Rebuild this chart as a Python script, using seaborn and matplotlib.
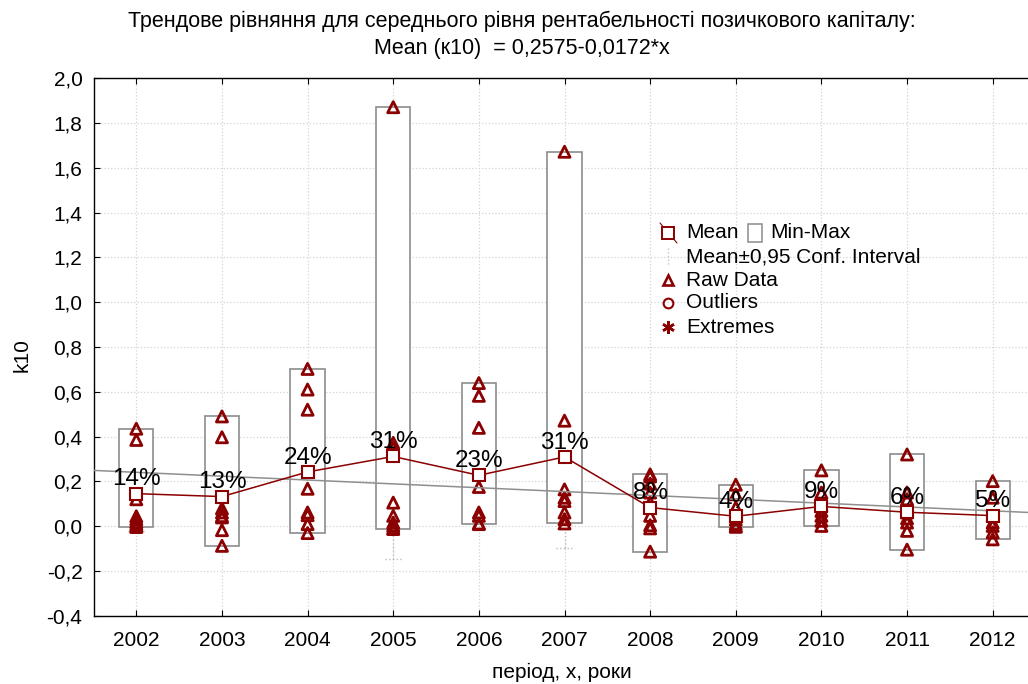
import numpy as np
import pandas as pd
import seaborn as sns
import matplotlib
matplotlib.use("Agg")
import matplotlib.pyplot as plt
from matplotlib.lines import Line2D
from matplotlib.patches import Rectangle

# ---- data ----
years = [2002, 2003, 2004, 2005, 2006, 2007, 2008, 2009, 2010, 2011, 2012]
raw_2002 = [0.435, 0.385, 0.12, 0.044, 0.031, 0.018, 0.008, 0.0, -0.004]
raw_2003 = [0.49, 0.397, 0.079, 0.061, 0.045, 0.039, -0.018, -0.088]
raw_2004 = [0.702, 0.61, 0.52, 0.167, 0.061, 0.049, 0.009, -0.031]
raw_2005 = [1.871, 0.372, 0.35, 0.105, 0.046, 0.016, 0.003, -0.008, -0.013]
raw_2006 = [0.639, 0.582, 0.439, 0.175, 0.061, 0.046, 0.012, 0.009]
raw_2007 = [1.672, 0.471, 0.164, 0.127, 0.112, 0.061, 0.031, 0.012]
raw_2008 = [0.231, 0.222, 0.19, 0.15, 0.105, 0.046, 0.004, -0.01, -0.114]
raw_2009 = [0.185, 0.142, 0.083, 0.03, 0.01, 0.0, -0.003]
raw_2010 = [0.249, 0.15, 0.09, 0.068, 0.046, 0.024, 0.001]
raw_2011 = [0.32, 0.15, 0.12, 0.061, 0.035, 0.016, -0.021, -0.105]
raw_2012 = [0.201, 0.127, 0.046, 0.016, 0.001, -0.028, -0.059]
raw_values = [raw_2002, raw_2003, raw_2004, raw_2005, raw_2006, raw_2007,
              raw_2008, raw_2009, raw_2010, raw_2011, raw_2012]
means = [0.145, 0.132, 0.242, 0.311, 0.227, 0.309, 0.083, 0.044, 0.088, 0.062, 0.047]
ci_half = [0.165, 0.17, 0.22, 0.458, 0.2, 0.408, 0.09, 0.045, 0.07, 0.1, 0.07]
trend_a, trend_b = 0.2575, -0.0172
y_ticks = [-0.4, -0.2, 0.0, 0.2, 0.4, 0.6, 0.8, 1.0, 1.2, 1.4, 1.6, 1.8, 2.0]

title = ("Трендове рівняння для середнього рівня рентабельності позичкового капіталу:\n"
         "Mean (к10)  = 0,2575-0,0172*x")

RED = "#8b0000"
BOX = "#8c8c8c"
GRID = "#d4d4d4"

sns.set_style("white")
plt.rcParams["font.family"] = ["Liberation Sans", "DejaVu Sans"]
plt.rcParams.update({"text.color": "black", "axes.labelcolor": "black",
                     "xtick.color": "black", "ytick.color": "black"})

W, H = 1028, 684
fig = plt.figure(figsize=(W / 100, H / 100), dpi=100)

# plot area in pixels (extends past the right edge of the canvas)
left_px, right_px, top_px, bottom_px = 93.5, 1035.5, 78.3, 615.7
ax = fig.add_axes([left_px / W, 1 - bottom_px / H,
                   (right_px - left_px) / W, (bottom_px - top_px) / H])

raw_df = pd.DataFrame({
    "year": np.repeat(years, [len(v) for v in raw_values]),
    "k10": np.concatenate(raw_values),
})
mean_df = pd.DataFrame({"year": years, "mean": means})

# confidence interval whiskers (boxes are drawn on top of them)
lo = np.array(means) - np.array(ci_half)
hi = np.array(means) + np.array(ci_half)
ax.vlines(years, lo, hi, colors="#bdbdbd", linestyles=":", linewidth=1.0, zorder=1.5)
ax.hlines(np.concatenate([lo, hi]), np.array(years * 2) - 0.1, np.array(years * 2) + 0.1,
          colors="#bdbdbd", linestyles=":", linewidth=1.0, zorder=1.5)

# min-max boxes
mins = [min(v) for v in raw_values]
maxs = [max(v) for v in raw_values]
ax.bar(years, np.array(maxs) - np.array(mins), bottom=mins, width=0.4,
       facecolor="white", edgecolor=BOX, linewidth=1.2, zorder=2)

# trend line
tx = np.array([2001.5, 2012.5])
ax.plot(tx, trend_a + trend_b * (tx - 2001), color="#8f8f8f", linewidth=1.1, zorder=3.5)

# raw data
sns.scatterplot(data=raw_df, x="year", y="k10", ax=ax, marker="^", s=64,
                facecolors="none", edgecolor=RED, linewidth=2.0, zorder=3,
                legend=False)

# means
sns.lineplot(data=mean_df, x="year", y="mean", ax=ax, color=RED, linewidth=1.1,
             marker="s", markersize=9, markerfacecolor="white",
             markeredgecolor=RED, markeredgewidth=1.5, zorder=4, legend=False)

for yr, m in zip(years, means):
    ax.annotate(f"{round(m * 100):d}%", (yr, m), xytext=(0, 6),
                textcoords="offset points", ha="center", va="baseline",
                fontsize=17.5, color="black", zorder=6)

# axes styling
ax.set_xlim(2001.5, 2012.5)
ax.set_ylim(-0.4, 2.0)
ax.set_xticks(years)
ax.set_xticklabels([str(y) for y in years], fontsize=15)
ax.set_yticks(y_ticks)
ax.set_yticklabels([f"{t:.1f}".replace(".", ",") for t in y_ticks], fontsize=15)
ax.tick_params(axis="x", direction="in", length=4, top=True, bottom=True, pad=11)
ax.tick_params(axis="y", direction="in", length=4, left=True, pad=8)
ax.grid(True, linestyle=":", color=GRID, linewidth=0.9)
ax.set_axisbelow(True)
for sp in ax.spines.values():
    sp.set_color("black")
    sp.set_linewidth(1.0)

ax.set_xlabel("період, х, роки", fontsize=15, va="center")
ax.set_ylabel("k10", fontsize=15, va="center")
ax.xaxis.set_label_coords((562 - left_px) / (right_px - left_px),
                          -(672 - bottom_px) / (bottom_px - top_px))
ax.yaxis.set_label_coords(-(left_px - 22) / (right_px - left_px),
                          (bottom_px - 355) / (bottom_px - top_px))

fig.text(522 / W, 1 - 35 / H, title, ha="center", va="center", fontsize=15.5,
         linespacing=1.4)

# legend drawn in figure pixel coordinates
def fx(px):
    return px / W

def fy(py):
    return 1 - py / H

legend_rows = [233, 257, 280, 303, 327]
sym_x = 668
txt_x = 686
lfs = 15
fig.add_artist(Line2D([fx(660), fx(677)], [fy(223), fy(243)], color=RED, linewidth=0.8))
fig.add_artist(Line2D([fx(sym_x)], [fy(legend_rows[0])], marker="s", markersize=8,
                      markerfacecolor="white", markeredgecolor=RED, markeredgewidth=1.4))
fig.text(fx(txt_x), fy(legend_rows[0]), "Mean", ha="left", va="center", fontsize=lfs)
fig.add_artist(Rectangle((fx(748), fy(242)), fx(14), 18 / H, facecolor="white",
                         edgecolor=BOX, linewidth=1.1))
fig.text(fx(770), fy(legend_rows[0]), "Min-Max", ha="left", va="center", fontsize=lfs)
fig.add_artist(Line2D([fx(sym_x), fx(sym_x)], [fy(248), fy(266)], color="#c4c4c4",
                      linestyle=":", linewidth=1.0))
fig.text(fx(txt_x), fy(legend_rows[1]), "Mean±0,95 Conf. Interval", ha="left",
         va="center", fontsize=lfs)
fig.add_artist(Line2D([fx(sym_x)], [fy(legend_rows[2])], marker="^", markersize=7,
                      markerfacecolor="none", markeredgecolor=RED, markeredgewidth=1.9))
fig.text(fx(txt_x), fy(legend_rows[2]), "Raw Data", ha="left", va="center", fontsize=lfs)
fig.add_artist(Line2D([fx(sym_x)], [fy(legend_rows[3])], marker="o", markersize=7,
                      markerfacecolor="none", markeredgecolor=RED, markeredgewidth=1.5))
fig.text(fx(txt_x), fy(legend_rows[3]), "Outliers", ha="left", va="center", fontsize=lfs)
fig.add_artist(Line2D([fx(sym_x)], [fy(legend_rows[4])], marker=(6, 2, 0), markersize=9,
                      color=RED, markeredgewidth=1.8))
fig.text(fx(txt_x), fy(legend_rows[4]), "Extremes", ha="left", va="center", fontsize=lfs)

fig.savefig("out.png", dpi=100)
